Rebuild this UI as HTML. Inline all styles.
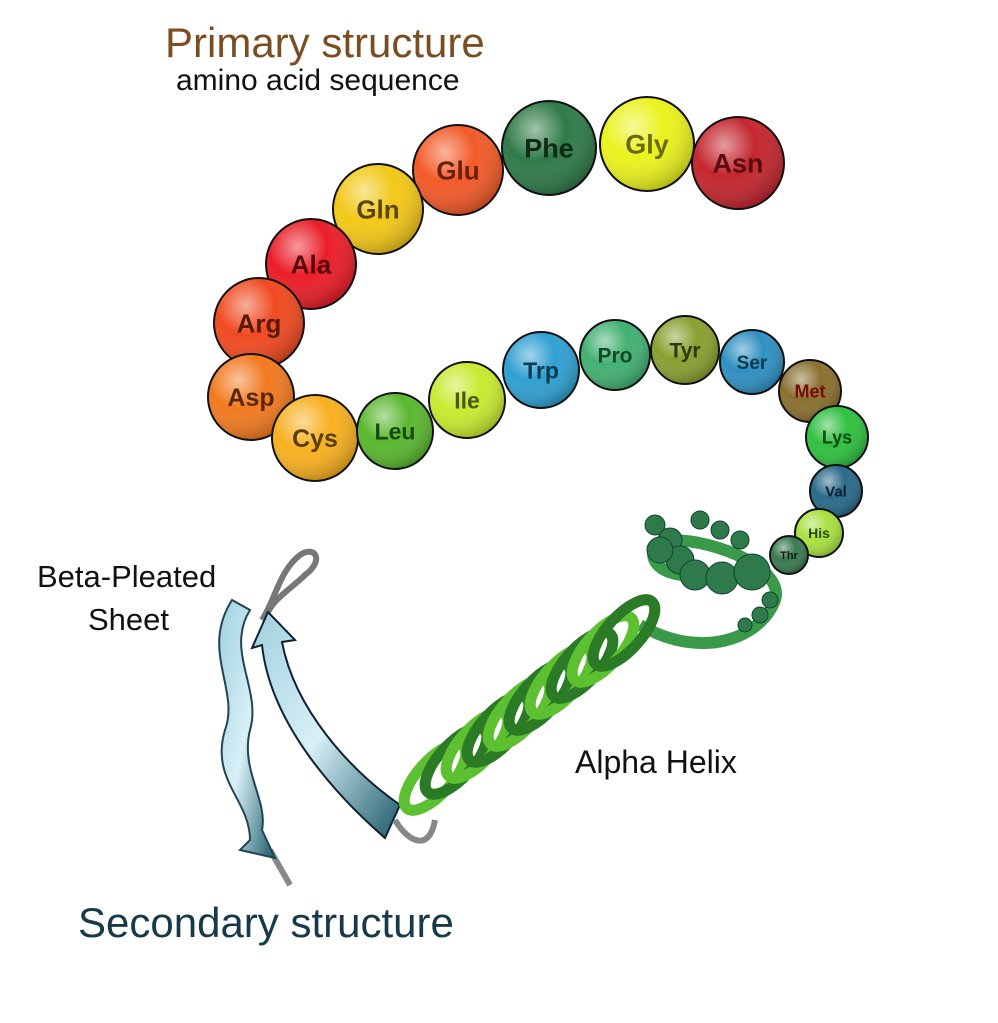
<!DOCTYPE html>
<html><head><meta charset="utf-8"><style>
body{margin:0;background:#fff;width:998px;height:1023px;overflow:hidden}
svg{display:block}
text{font-family:"Liberation Sans",sans-serif}
</style></head><body>
<svg id="s" width="998" height="1023" viewBox="0 0 998 1023">
<defs>
<radialGradient id="hl" cx="0.35" cy="0.3" r="0.75">
<stop offset="0" stop-color="#fff" stop-opacity="0.55"/>
<stop offset="0.45" stop-color="#fff" stop-opacity="0"/>
<stop offset="1" stop-color="#000" stop-opacity="0.25"/>
</radialGradient>
<linearGradient id="beta" x1="0" y1="0" x2="1" y2="1">
<stop offset="0" stop-color="#9fd0e0"/><stop offset="0.5" stop-color="#d8f0f6"/><stop offset="1" stop-color="#1c5a6a"/>
</linearGradient>
</defs>
<text x="165" y="57" font-size="42" fill="#7a4e22">Primary structure</text>
<text x="176" y="90" font-size="30" fill="#111">amino acid sequence</text>
<text x="37" y="587" font-size="31" fill="#111">Beta-Pleated</text>
<text x="88" y="630" font-size="31" fill="#111">Sheet</text>
<text x="575" y="773" font-size="32" fill="#111">Alpha Helix</text>
<text x="78" y="937" font-size="42" fill="#17394a">Secondary structure</text>

<g>
<path d="M290 885 L270 850" stroke="#888" stroke-width="6" fill="none"/>
<path d="M262 620 C275 600 280 570 300 555 C315 545 325 560 305 575 C290 590 270 600 265 620" stroke="#777" stroke-width="6" fill="none"/>
<path d="M232 600 C200 650 240 690 225 730 C210 780 250 800 250 840 L240 850 L275 858 L262 830 C268 800 240 770 250 730 C262 690 225 650 250 610 Z" fill="url(#beta)" stroke="#245" stroke-width="2"/>
<path d="M400 805 L385 838 C330 790 270 720 262 645 L252 648 L268 612 L295 640 L282 642 C295 710 350 770 400 805 Z" fill="url(#beta)" stroke="#123" stroke-width="2"/>
<path d="M395 820 C410 845 430 850 435 820" stroke="#888" stroke-width="6" fill="none"/>
</g>
<g id="helix"></g>
<g id="beads"></g>
</svg>
<script>
const ns="http://www.w3.org/2000/svg";
const helix=document.getElementById('helix');
const tail=document.createElementNS(ns,'path');
tail.setAttribute('d','M640 625 C700 660 760 640 775 600 C785 570 720 540 670 540 C640 545 650 580 700 575');
tail.setAttribute('stroke','#3a9a4a');tail.setAttribute('stroke-width',12);tail.setAttribute('fill','none');


helix.appendChild(tail);
for(let i=0;i<10;i++){
 const cx=435+i*21, cy=777-i*16;
 const e=document.createElementNS(ns,'ellipse');
 e.setAttribute('cx',cx);e.setAttribute('cy',cy);e.setAttribute('rx',17);e.setAttribute('ry',42);
 e.setAttribute('transform','rotate(42 '+cx+' '+cy+')');
 e.setAttribute('fill','none');e.setAttribute('stroke',i%2?'#2a7a26':'#5cc030');e.setAttribute('stroke-width',11);
 
 
 helix.appendChild(e);
}
const small=[[655,525,10],[670,540,12],[680,560,14],[695,575,15],[722,578,16],[752,572,18],[660,550,13],[770,600,8],[760,615,8],[745,625,7],[700,520,9],[720,530,9],[740,540,9]];
small.forEach(p=>{const c=document.createElementNS(ns,'circle');c.setAttribute('cx',p[0]);c.setAttribute('cy',p[1]);c.setAttribute('r',p[2]);c.setAttribute('fill','#2e7a4a');c.setAttribute('stroke','#143');


helix.appendChild(c);});
const beads=[
["Asn",738,163,46,"#c4262e","#5a0d10",27],
["Gly",647,144,47,"#eaf21e","#6a6a10",27],
["Phe",549,148,47,"#2f7a48","#0f2a18",27],
["Glu",458,170,45,"#f25a28","#6a2008",26],
["Gln",378,209,45,"#f2c818","#5a4608",26],
["Ala",311,264,45,"#ea1e28","#5a0a0e",26],
["Arg",259,323,45,"#f04a20","#5a1a08",26],
["Asp",251,397,43,"#f27a20","#5a2a08",25],
["Cys",315,438,43,"#f8b020","#5a3e08",25],
["Leu",395,431,38,"#5ab830","#1a4a10",23],
["Ile",467,400,38,"#c8ea30","#4a5a10",23],
["Trp",541,370,38,"#30a0d2","#0a3a50",23],
["Pro",615,355,35,"#42b072","#104a2a",21],
["Tyr",685,350,34,"#88a030","#2a3a08",21],
["Ser",752,362,32,"#3090c2","#0a3a50",19],
["Met",810,391,31,"#8a7030","#7a0a0a",18],
["Lys",837,437,31,"#30c040","#0a4a10",18],
["Val",836,491,26,"#2a6a8a","#0a2030",15],
["His",819,533,24,"#a8e040","#2a4a08",14],
["Thr",789,555,19,"#3a7a50","#0a2010",11]];
const g=document.getElementById('beads');
beads.forEach(b=>{
 const c=document.createElementNS(ns,'circle');
 c.setAttribute('cx',b[1]);c.setAttribute('cy',b[2]);c.setAttribute('r',b[3]);c.setAttribute('fill',b[4]);c.setAttribute('stroke','#111');c.setAttribute('stroke-width',2);
 
 
 g.appendChild(c);
 const h=document.createElementNS(ns,'circle');
 h.setAttribute('cx',b[1]);h.setAttribute('cy',b[2]);h.setAttribute('r',b[3]-1);h.setAttribute('fill','url(#hl)');
 
 
 g.appendChild(h);
 const t=document.createElementNS(ns,'text');
 t.setAttribute('x',b[1]);t.setAttribute('y',b[2]+b[6]*0.36);t.setAttribute('text-anchor','middle');
 t.setAttribute('font-size',b[6]);t.setAttribute('font-weight','bold');t.setAttribute('fill',b[5]);
 t.textContent=b[0];
 
 
 g.appendChild(t);
});
</script>
</body></html>
